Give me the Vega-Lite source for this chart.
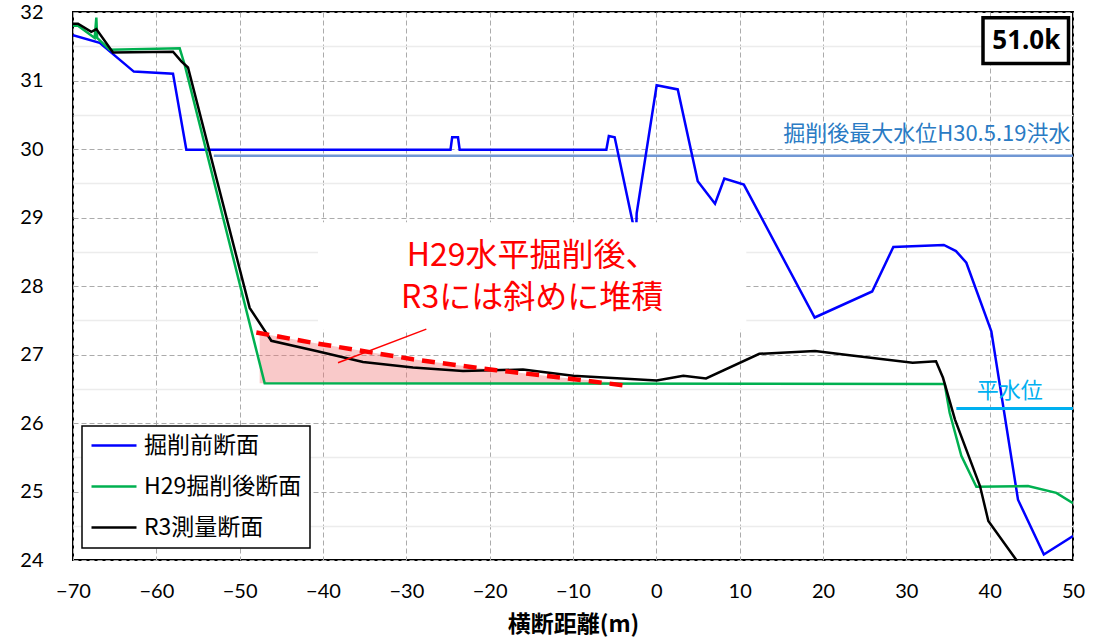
{
  "$schema": "https://vega.github.io/schema/vega-lite/v6.json",
  "width": 1000,
  "height": 548,
  "autosize": {"type": "none"},
  "padding": {"left": 73, "top": 12, "right": 24, "bottom": 81},
  "background": "white",
  "config": {
    "view": {"stroke": "#000", "strokeWidth": 2},
    "font": "Lato",
    "axis": {"domain": false, "ticks": false, "tickSize": 0, "labelFont": "Lato", "labelFontSize": 20, "labelColor": "#000", "grid": true, "gridColor": "#ababab", "gridDash": [5, 3], "gridWidth": 1}
  },
  "datasets": {
    "profiles": [
      {"s": "掘削前断面", "i": 1, "x": -70, "y": 31.66},
      {"s": "掘削前断面", "i": 2, "x": -66.8, "y": 31.55},
      {"s": "掘削前断面", "i": 3, "x": -62.7, "y": 31.13},
      {"s": "掘削前断面", "i": 4, "x": -58.0, "y": 31.1},
      {"s": "掘削前断面", "i": 5, "x": -56.4, "y": 29.99},
      {"s": "掘削前断面", "i": 6, "x": -24.7, "y": 29.99},
      {"s": "掘削前断面", "i": 7, "x": -24.5, "y": 30.17},
      {"s": "掘削前断面", "i": 8, "x": -23.8, "y": 30.17},
      {"s": "掘削前断面", "i": 9, "x": -23.6, "y": 29.99},
      {"s": "掘削前断面", "i": 10, "x": -6.0, "y": 29.99},
      {"s": "掘削前断面", "i": 11, "x": -5.7, "y": 30.19},
      {"s": "掘削前断面", "i": 12, "x": -5.0, "y": 30.17},
      {"s": "掘削前断面", "i": 13, "x": -2.44, "y": 28.7},
      {"s": "掘削前断面", "i": 14, "x": -2.36, "y": 29.06},
      {"s": "掘削前断面", "i": 15, "x": 0.04, "y": 30.93},
      {"s": "掘削前断面", "i": 16, "x": 2.57, "y": 30.87},
      {"s": "掘削前断面", "i": 17, "x": 4.97, "y": 29.53},
      {"s": "掘削前断面", "i": 18, "x": 7.04, "y": 29.2},
      {"s": "掘削前断面", "i": 19, "x": 8.16, "y": 29.57},
      {"s": "掘削前断面", "i": 20, "x": 10.5, "y": 29.48},
      {"s": "掘削前断面", "i": 21, "x": 19.0, "y": 27.54},
      {"s": "掘削前断面", "i": 22, "x": 25.9, "y": 27.92},
      {"s": "掘削前断面", "i": 23, "x": 28.44, "y": 28.57},
      {"s": "掘削前断面", "i": 24, "x": 34.5, "y": 28.6},
      {"s": "掘削前断面", "i": 25, "x": 35.96, "y": 28.51},
      {"s": "掘削前断面", "i": 26, "x": 37.2, "y": 28.34},
      {"s": "掘削前断面", "i": 27, "x": 40.2, "y": 27.34},
      {"s": "掘削前断面", "i": 28, "x": 43.4, "y": 24.88},
      {"s": "掘削前断面", "i": 29, "x": 46.5, "y": 24.08},
      {"s": "掘削前断面", "i": 30, "x": 50, "y": 24.35},
      {"s": "H29掘削後断面", "i": 1, "x": -70, "y": 31.8},
      {"s": "H29掘削後断面", "i": 2, "x": -69.4, "y": 31.8},
      {"s": "H29掘削後断面", "i": 3, "x": -67.4, "y": 31.62},
      {"s": "H29掘削後断面", "i": 4, "x": -67.2, "y": 31.92},
      {"s": "H29掘削後断面", "i": 5, "x": -67.1, "y": 31.62},
      {"s": "H29掘削後断面", "i": 6, "x": -65.6, "y": 31.45},
      {"s": "H29掘削後断面", "i": 7, "x": -57.2, "y": 31.47},
      {"s": "H29掘削後断面", "i": 8, "x": -56.6, "y": 31.23},
      {"s": "H29掘削後断面", "i": 9, "x": -47.0, "y": 26.58},
      {"s": "H29掘削後断面", "i": 10, "x": 34.6, "y": 26.57},
      {"s": "H29掘削後断面", "i": 11, "x": 35.2, "y": 26.15},
      {"s": "H29掘削後断面", "i": 12, "x": 36.6, "y": 25.52},
      {"s": "H29掘削後断面", "i": 13, "x": 38.4, "y": 25.07},
      {"s": "H29掘削後断面", "i": 14, "x": 44.6, "y": 25.08},
      {"s": "H29掘削後断面", "i": 15, "x": 48.0, "y": 24.98},
      {"s": "H29掘削後断面", "i": 16, "x": 50, "y": 24.83},
      {"s": "R3測量断面", "i": 1, "x": -70, "y": 31.83},
      {"s": "R3測量断面", "i": 2, "x": -69.4, "y": 31.83},
      {"s": "R3測量断面", "i": 3, "x": -67.8, "y": 31.71},
      {"s": "R3測量断面", "i": 4, "x": -67.2, "y": 31.75},
      {"s": "R3測量断面", "i": 5, "x": -65.2, "y": 31.41},
      {"s": "R3測量断面", "i": 6, "x": -58.0, "y": 31.42},
      {"s": "R3測量断面", "i": 7, "x": -57.0, "y": 31.28},
      {"s": "R3測量断面", "i": 8, "x": -56.2, "y": 31.19},
      {"s": "R3測量断面", "i": 9, "x": -48.8, "y": 27.68},
      {"s": "R3測量断面", "i": 10, "x": -46.2, "y": 27.2},
      {"s": "R3測量断面", "i": 11, "x": -40.8, "y": 27.05},
      {"s": "R3測量断面", "i": 12, "x": -35.2, "y": 26.89},
      {"s": "R3測量断面", "i": 13, "x": -29.2, "y": 26.81},
      {"s": "R3測量断面", "i": 14, "x": -23.2, "y": 26.76},
      {"s": "R3測量断面", "i": 15, "x": -16.0, "y": 26.78},
      {"s": "R3測量断面", "i": 16, "x": -10.0, "y": 26.69},
      {"s": "R3測量断面", "i": 17, "x": 0.04, "y": 26.62},
      {"s": "R3測量断面", "i": 18, "x": 3.24, "y": 26.69},
      {"s": "R3測量断面", "i": 19, "x": 5.96, "y": 26.65},
      {"s": "R3測量断面", "i": 20, "x": 12.36, "y": 27.01},
      {"s": "R3測量断面", "i": 21, "x": 19.04, "y": 27.05},
      {"s": "R3測量断面", "i": 22, "x": 23.2, "y": 26.99},
      {"s": "R3測量断面", "i": 23, "x": 30.76, "y": 26.88},
      {"s": "R3測量断面", "i": 24, "x": 33.56, "y": 26.9},
      {"s": "R3測量断面", "i": 25, "x": 34.4, "y": 26.66},
      {"s": "R3測量断面", "i": 26, "x": 35.84, "y": 26.05},
      {"s": "R3測量断面", "i": 27, "x": 38.84, "y": 25.08},
      {"s": "R3測量断面", "i": 28, "x": 39.84, "y": 24.57},
      {"s": "R3測量断面", "i": 29, "x": 43.2, "y": 24.0}
    ],
    "deposit": [
      {"x": -48.0, "y": 27.32},
      {"x": -41.2, "y": 27.17},
      {"x": -29.2, "y": 26.93},
      {"x": -19.2, "y": 26.77},
      {"x": -11.2, "y": 26.66},
      {"x": -4.0, "y": 26.55}
    ],
    "hatch": [
      {"x": -47.6, "y": 27.31},
      {"x": -41.2, "y": 27.17},
      {"x": -29.2, "y": 26.93},
      {"x": -19.2, "y": 26.77},
      {"x": -11.2, "y": 26.66},
      {"x": -4.0, "y": 26.58}
    ]
  },
  "encoding": {
    "x": {
      "field": "x", "type": "quantitative",
      "scale": {"domain": [-70, 50], "nice": false, "zero": false},
      "axis": {
        "values": [-70, -60, -50, -40, -30, -20, -10, 0, 10, 20, 30, 40, 50],
        "title": "横断距離(m)", "titleFont": "Noto Sans CJK JP", "titleFontSize": 23, "titleFontWeight": "bold", "titleColor": "#000",
        "labelPadding": 21, "titlePadding": 12, "labelFlush": false, "labelOverlap": false
      }
    },
    "y": {
      "field": "y", "type": "quantitative",
      "scale": {"domain": [24, 32], "nice": false, "zero": false},
      "axis": {
        "values": [24, 24.5, 25, 25.5, 26, 26.5, 27, 27.5, 28, 28.5, 29, 29.5, 30, 30.5, 31, 31.5, 32],
        "title": null,
        "labelExpr": "datum.value % 1 === 0 ? format(datum.value, 'd') : ''",
        "labelPadding": 30, "labelFlush": false, "labelOverlap": false,
        "gridColor": {"condition": {"test": "datum.value % 1 !== 0", "value": "#ececec"}, "value": "#ababab"},
        "gridDash": {"condition": {"test": "datum.value % 1 !== 0", "value": []}, "value": [5, 3]},
        "gridWidth": {"condition": {"test": "datum.value % 1 !== 0", "value": 1.5}, "value": 1}
      }
    }
  },
  "layer": [
    {
      "data": {"name": "hatch"},
      "mark": {"type": "area", "color": "#f07070", "opacity": 0.38},
      "encoding": {"y2": {"datum": 26.58}}
    },
    {
      "data": {"values": [{"x": -53.1, "y": 29.9}, {"x": 50, "y": 29.9}]},
      "mark": {"type": "line", "color": "#7097d4", "strokeWidth": 2.5},
      "encoding": {}
    },
    {
      "data": {"name": "profiles"},
      "mark": {"type": "line", "strokeWidth": 2.5, "clip": true},
      "encoding": {
        "color": {
          "field": "s", "type": "nominal",
          "scale": {"domain": ["掘削前断面", "H29掘削後断面", "R3測量断面"], "range": ["#0000ff", "#00b050", "#000000"]},
          "legend": {
            "title": null, "orient": "none", "legendX": 9, "legendY": 414,
            "strokeColor": "#000", "fillColor": "#fff", "padding": 8,
            "labelFont": "Noto Sans CJK JP", "labelFontSize": 23, "labelColor": "#000", "labelLimit": 400,
            "symbolType": "stroke", "symbolSize": 2025, "symbolStrokeWidth": 2.5,
            "rowPadding": 17, "labelOffset": 6, "clipHeight": 23,
            "encode": {"legend": {"update": {"strokeWidth": {"value": 1.5}}}}
          }
        },
        "order": {"field": "i", "type": "quantitative"}
      }
    },
    {
      "data": {"name": "deposit"},
      "mark": {"type": "line", "color": "#ff0000", "strokeWidth": 4.5, "strokeDash": [13, 8]},
      "encoding": {}
    },
    {
      "data": {"values": [{"x": -40.6, "x2": 10.8, "y": 28.93, "y2": 27.36}]},
      "mark": {"type": "rect", "fill": "#ffffff"},
      "encoding": {"x2": {"field": "x2"}, "y2": {"field": "y2"}}
    },
    {
      "data": {"values": [{"x": -14.9, "y": 28.29, "t": "H29水平掘削後、"}, {"x": -14.9, "y": 27.68, "t": "R3には斜めに堆積"}]},
      "mark": {"type": "text", "font": "Noto Sans CJK JP", "fontSize": 32, "color": "#ff0000", "align": "center", "baseline": "alphabetic"},
      "encoding": {"text": {"field": "t"}}
    },
    {
      "data": {"values": [{"x": -38.2, "y": 26.88, "x2": -27.6, "y2": 27.37}]},
      "mark": {"type": "rule", "color": "#ff0000", "strokeWidth": 1.5},
      "encoding": {"x2": {"field": "x2"}, "y2": {"field": "y2"}}
    },
    {
      "data": {"values": [{"x": 36.0, "x2": 50, "y": 26.21}]},
      "mark": {"type": "rule", "color": "#00b0f0", "strokeWidth": 3},
      "encoding": {"x2": {"field": "x2"}}
    },
    {
      "data": {"values": [{"x": 42.4, "y": 26.36, "t": "平水位"}]},
      "mark": {"type": "text", "font": "Noto Sans CJK JP", "fontSize": 22, "color": "#00b0f0", "align": "center", "baseline": "alphabetic"},
      "encoding": {"text": {"field": "t"}}
    },
    {
      "data": {"values": [{"x": 49.7, "y": 30.115, "t": "掘削後最大水位H30.5.19洪水"}]},
      "mark": {"type": "text", "font": "Noto Sans CJK JP", "fontSize": 22, "color": "#2a7bc4", "align": "right", "baseline": "alphabetic"},
      "encoding": {"text": {"field": "t"}}
    },
    {
      "data": {"values": [{"x": 39.2, "x2": 49.46, "y": 31.915, "y2": 31.25}]},
      "mark": {"type": "rect", "fill": "#ffffff", "stroke": "#000000", "strokeWidth": 3.5},
      "encoding": {"x2": {"field": "x2"}, "y2": {"field": "y2"}}
    },
    {
      "data": {"values": [{"x": 44.4, "y": 31.57, "t": "51.0k"}]},
      "mark": {"type": "text", "font": "Noto Sans", "fontSize": 26, "fontWeight": "bold", "color": "#000000", "align": "center", "baseline": "middle"},
      "encoding": {"text": {"field": "t"}}
    }
  ]
}
